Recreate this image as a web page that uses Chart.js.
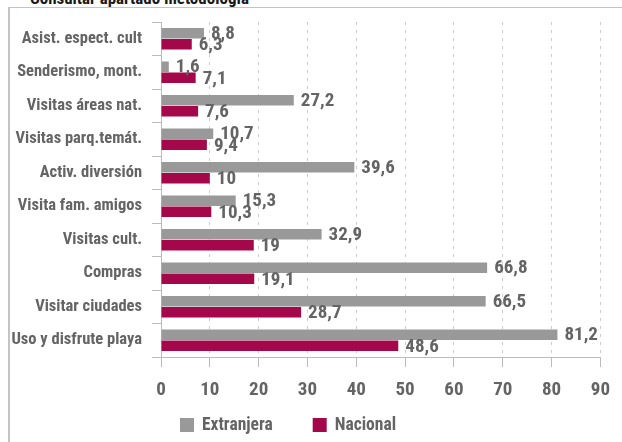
<!DOCTYPE html>
<html>
<head>
<meta charset="utf-8">
<script src="https://cdn.jsdelivr.net/npm/chart.js@4"></script>
<style>
  body { margin: 0; background: #fff; overflow: hidden; }
  #titulo {
    position: absolute; left: 30px; top: -12px;
    font: bold 17px 'Roboto Condensed', sans-serif;
    color: #1a1a1a; line-height: 20px; white-space: nowrap;
  }
  #marco {
    position: absolute; left: 8px; top: 7px; width: 640px; height: 460px;
    border-top: 1px solid #c4c4c4; border-left: 2px solid #c4c4c4;
  }
  #caja { position: absolute; left: 0; top: 0; width: 622px; height: 442px; }
</style>
</head>
<body>
<div id="titulo">Consultar apartado metodología</div>
<div id="marco"></div>
<div id="caja"><canvas id="grafico"></canvas></div>
<script>
// Datos
const categorias = ['Asist. espect. cult', 'Senderismo, mont.', 'Visitas áreas nat.', 'Visitas parq.temát.',
  'Activ. diversión', 'Visita fam. amigos', 'Visitas cult.', 'Compras', 'Visitar ciudades', 'Uso y disfrute playa'];
const extranjera = [8.8, 1.6, 27.2, 10.7, 39.6, 15.3, 32.9, 66.8, 66.5, 81.2];
const nacional = [6.3, 7.1, 7.6, 9.4, 10, 10.3, 19, 19.1, 28.7, 48.6];

const fuente = "'Roboto Condensed', 'Open Sans', sans-serif";
const gris = '#646464';

// etiquetas de valor al final de cada barra
const etiquetas = {
  id: 'etiquetas',
  afterDatasetsDraw(chart) {
    const c = chart.ctx;
    c.save();
    c.font = 'bold 19px ' + fuente;
    c.fillStyle = gris;
    c.textAlign = 'left';
    c.textBaseline = 'middle';
    chart.data.datasets.forEach((ds, i) => {
      chart.getDatasetMeta(i).data.forEach((bar, j) => {
        c.fillText(String(ds.data[j]).replace('.', ','), bar.x + 7, bar.y + 1);
      });
    });
    c.restore();
  }
};

// leyenda abajo, a la izquierda del centro
const leyenda = {
  id: 'leyenda',
  afterDraw(chart) {
    const c = chart.ctx;
    c.save();
    c.font = 'bold 17.5px ' + fuente;
    c.textBaseline = 'middle';
    let x = 180;
    const y = 425;
    chart.data.datasets.forEach(ds => {
      c.fillStyle = ds.backgroundColor;
      c.fillRect(x, y - 7, 14, 14);
      c.fillStyle = gris;
      c.fillText(ds.label, x + 22, y + 1);
      x += 22 + c.measureText(ds.label).width + 40;
    });
    c.restore();
  }
};

Chart.defaults.font.family = fuente;
Chart.defaults.font.weight = 'bold';
Chart.defaults.color = gris;

new Chart(document.getElementById('grafico'), {
  type: 'bar',
  data: {
    labels: categorias,
    datasets: [{
      label: 'Extranjera',
      data: extranjera,
      backgroundColor: '#999999',
      categoryPercentage: 0.66,
      barPercentage: 0.94
    }, {
      label: 'Nacional',
      data: nacional,
      backgroundColor: '#a5084a',
      categoryPercentage: 0.66,
      barPercentage: 0.94
    }]
  },
  options: {
    indexAxis: 'y',
    responsive: true,
    maintainAspectRatio: false,
    animation: false,
    layout: { padding: { top: 22, right: 10, left: 0, bottom: 42 } },
    plugins: {
      tooltip: { enabled: false },
      legend: { display: false }
    },
    scales: {
      x: {
        min: 0,
        max: 90,
        ticks: { stepSize: 10, padding: 12, font: { size: 19 } },
        grid: { color: '#cccccc', tickColor: '#bbbbbb', tickLength: 10, tickBorderDash: [] },
        border: { color: '#bbbbbb', dash: [3, 5] },
        afterFit(scale) { scale.height = 43; }
      },
      y: {
        ticks: { padding: 10, font: { size: 16.5 } },
        grid: { drawOnChartArea: false, tickLength: 9, color: '#bbbbbb' },
        border: { color: '#bbbbbb' },
        afterFit(scale) { scale.width = 161; }
      }
    }
  },
  plugins: [etiquetas, leyenda]
});
</script>
</body>
</html>
